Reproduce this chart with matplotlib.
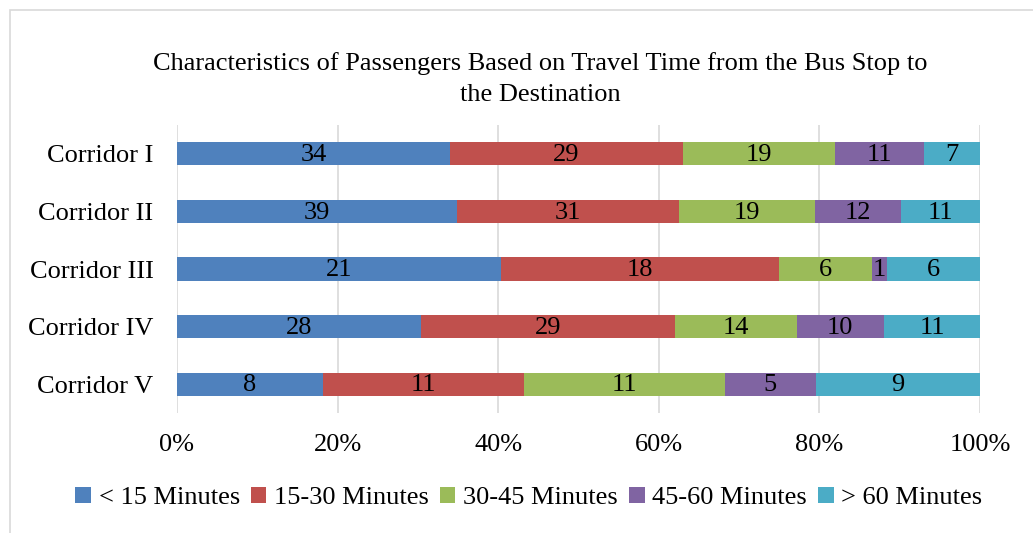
import matplotlib.pyplot as plt
import numpy as np
from matplotlib.patches import Rectangle

corridors = ["Corridor I", "Corridor II", "Corridor III", "Corridor IV", "Corridor V"]
groups = ["< 15 Minutes", "15-30 Minutes", "30-45 Minutes", "45-60 Minutes", "> 60 Minutes"]
under_15 = [34, 39, 21, 28, 8]
from_15_30 = [29, 31, 18, 29, 11]
from_30_45 = [19, 19, 6, 14, 11]
from_45_60 = [11, 12, 1, 10, 5]
over_60 = [7, 11, 6, 11, 9]
colors = ["#4F81BD", "#C0504D", "#9BBB59", "#8064A2", "#4BACC6"]

plt.rcParams['font.family'] = ['Liberation Serif', 'DejaVu Serif']

def main():
    counts = np.array([under_15, from_15_30, from_30_45, from_45_60, over_60], dtype=float)
    totals = counts.sum(axis=0)
    shares = counts / totals * 100

    fig = plt.figure(figsize=(10.33, 5.33), dpi=100)
    ax = fig.add_axes([177 / 1033, 1 - 413 / 533, (980 - 177) / 1033, (413 - 125) / 533])

    # light frame round the chart area
    fig.patches.append(Rectangle((10 / 1033, -0.1), 1.2, 1 - 10 / 533 + 0.1,
                                 transform=fig.transFigure, fill=False,
                                 edgecolor="#D9D9D9", linewidth=1.2))

    ypos = np.arange(len(corridors))
    left = np.zeros(len(corridors))
    for k in range(len(groups)):
        ax.barh(ypos, shares[k], left=left, height=0.4, color=colors[k],
                label=groups[k], zorder=3)
        for i in range(len(corridors)):
            ax.text(left[i] + shares[k][i] / 2, ypos[i] + 0.02, f"{int(counts[k][i])}",
                    ha="center", va="center", fontsize=19, zorder=4)
        left += shares[k]

    ax.set_xlim(0, 100)
    ax.set_ylim(len(corridors) - 0.5, -0.5)
    ax.set_yticks(ypos)
    ax.set_yticklabels(corridors, fontsize=19)
    ax.set_xticks(np.arange(0, 101, 20))
    ax.set_xticklabels([f"{t}%" for t in range(0, 101, 20)], fontsize=19)
    ax.tick_params(axis="both", length=0)
    ax.tick_params(axis="x", pad=15)
    ax.tick_params(axis="y", pad=17)
    ax.grid(axis="x", color="#D9D9D9", linewidth=1.2, zorder=0)
    for s in ax.spines.values():
        s.set_visible(False)

    fig.text(540 / 1033, 1 - 79 / 533,
             "Characteristics of Passengers Based on Travel Time from the Bus Stop to\nthe Destination",
             ha="center", va="center", fontsize=19, linespacing=1.5)

    fig.legend(loc="center", bbox_to_anchor=(529 / 1033, 1 - 498 / 533), ncol=5,
               frameon=False, fontsize=19, handlelength=0.58, handleheight=0.58,
               handletextpad=0.3, columnspacing=0.42)

    fig.savefig("out.png", dpi=100)
    return 0

if __name__ == "__main__":
    main()
